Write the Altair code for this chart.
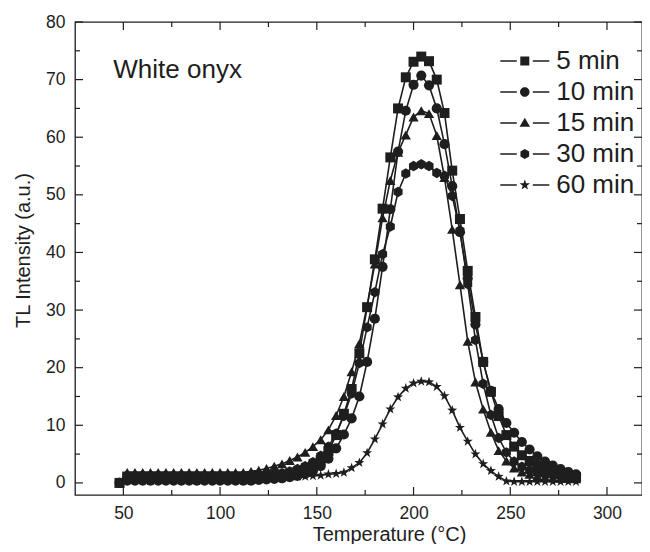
import altair as alt
import pandas as pd

FONT = "Liberation Sans"
INK = "#1e1e1e"

temps = [48, 52, 56, 60, 64, 68, 72, 76, 80, 84, 88, 92, 96, 100, 104, 108, 112, 116, 120,
         124, 128, 132, 136, 140, 144, 148, 152, 156, 160, 164, 168, 172, 176, 180, 184, 188,
         192, 196, 200, 204, 208, 212, 216, 220, 224, 228, 232, 236, 240, 244, 248, 252, 256,
         260, 264, 268, 272, 276, 280, 284]

min5 = [0.0, 1.1, 1.1, 1.1, 1.1, 1.1, 1.1, 1.1, 1.1, 1.1, 1.1, 1.1, 1.1, 1.1, 1.1, 1.1, 1.1, 1.1, 1.2,
        1.2, 1.3, 1.4, 1.6, 1.9, 2.3, 2.9, 3.9, 5.5, 8.3, 12.0, 16.3, 22.5, 30.5, 38.8, 47.6, 56.5,
        65.0, 70.4, 73.1, 74.0, 73.2, 70.0, 64.2, 54.2, 45.8, 36.8, 28.8, 21.0, 15.8, 11.6, 8.3, 6.3, 4.8,
        3.8, 3.0, 2.4, 1.9, 1.5, 1.2, 1.0]

min10 = [0.0, 0.4, 0.4, 0.4, 0.4, 0.4, 0.4, 0.4, 0.4, 0.4, 0.4, 0.4, 0.4, 0.4, 0.4, 0.4, 0.4, 0.4, 0.5,
         0.6, 0.7, 0.8, 1.0, 1.2, 1.6, 2.1, 2.9, 4.2, 6.0, 8.4, 11.2, 15.0, 21.0, 28.5, 37.5, 47.5,
         57.5, 64.6, 69.1, 70.7, 69.0, 65.0, 58.8, 51.5, 43.5, 35.5, 27.5, 21.0, 16.0, 12.8, 10.4, 8.7, 7.1,
         5.8, 4.6, 3.7, 3.0, 2.4, 1.9, 1.5]

min15 = [0.0, 1.8, 1.8, 1.8, 1.8, 1.8, 1.8, 1.8, 1.8, 1.8, 1.8, 1.8, 1.8, 1.8, 1.8, 1.8, 1.8, 2.0, 2.2,
         2.5, 2.9, 3.3, 3.9, 4.5, 5.3, 6.3, 7.5, 9.2, 11.7, 15.0, 19.3, 24.2, 30.7, 38.0, 46.0, 52.5,
         57.4, 60.4, 63.5, 64.6, 64.1, 60.3, 53.0, 44.0, 34.4, 24.6, 17.5, 12.8, 8.8, 5.6, 3.8, 2.6, 1.9,
         1.5, 1.2, 1.0, 0.9, 0.8, 0.8, 0.7]

min30 = [0.0, 1.3, 1.3, 1.3, 1.3, 1.3, 1.3, 1.3, 1.3, 1.3, 1.3, 1.3, 1.3, 1.3, 1.3, 1.3, 1.3, 1.3, 1.3,
         1.4, 1.5, 1.7, 2.0, 2.4, 2.9, 3.6, 4.7, 6.3, 8.6, 11.6, 15.5, 20.8, 27.0, 33.1, 39.7, 44.5,
         50.5, 53.7, 55.0, 55.3, 55.0, 53.8, 53.3, 49.8, 43.8, 34.5, 24.8, 17.2, 11.8, 7.8, 5.3, 3.7, 2.8,
         2.2, 1.8, 1.6, 1.5, 1.4, 1.3, 1.3]

min60 = [0.0, 0.6, 0.6, 0.6, 0.6, 0.6, 0.6, 0.6, 0.6, 0.6, 0.6, 0.6, 0.6, 0.6, 0.6, 0.6, 0.7, 0.7, 0.8,
         0.8, 0.9, 1.0, 1.0, 1.1, 1.1, 1.2, 1.3, 1.5, 1.6, 1.8, 2.6, 3.5, 5.2, 7.6, 10.2, 12.8,
         14.9, 16.4, 17.3, 17.6, 17.5, 16.7, 15.1, 12.6, 9.6, 7.2, 5.0, 3.3, 2.1, 1.1, 0.3, 0.2, 0.2,
         0.2, 0.2, 0.2, 0.2, 0.2, 0.2, 0.2]

series_names = ["5 min", "10 min", "15 min", "30 min", "60 min"]
series_values = [min5, min10, min15, min30, min60]

x_major = [50, 100, 150, 200, 250, 300]
x_minor = [75, 125, 175, 225, 275]
y_major = [0, 10, 20, 30, 40, 50, 60, 70, 80]
y_minor = [5, 15, 25, 35, 45, 55, 65, 75]

rows = []
for name, vals in zip(series_names, series_values):
    for t, v in zip(temps, vals):
        rows.append({"T": t, "I": v, "series": name})
df = pd.DataFrame(rows)

W, H = 567, 473
MAJ, MIN = 8, 5

STAR = ("M0,-1L0.235,-0.324L0.951,-0.309L0.38,0.124L0.588,0.809L0,0.4L-0.588,0.809"
        "L-0.38,0.124L-0.951,-0.309L-0.235,-0.324Z")
HEX = "M0,-1L0.866,-0.5L0.866,0.5L0,1L-0.866,0.5L-0.866,-0.5Z"
marker_shapes = ["square", "circle", "triangle-up", HEX, STAR]
marker_sizes = [100, 112, 135, 125, 165]

# legend glyphs: two filled dash bars plus the marker
DASH = "M-4.9,-0.15H-1.6V0.15H-4.9ZM1.6,-0.15H4.9V0.15H1.6Z"
legend_shapes = [
    DASH + "M-0.9,-0.9H0.9V0.9H-0.9Z",
    DASH + "M0.95,0A0.95,0.95,0,1,1,-0.95,0A0.95,0.95,0,1,1,0.95,0Z",
    DASH + "M0,-1.05L1.05,0.75H-1.05Z",
    DASH + "M0,-1L0.87,-0.5V0.5L0,1L-0.87,0.5V-0.5Z",
    DASH + "M0,-1.1L0.26,-0.36L1.05,-0.34L0.42,0.14L0.65,0.89L0,0.44L-0.65,0.89"
           "L-0.42,0.14L-1.05,-0.34L-0.26,-0.36Z",
]

xs = alt.Scale(domain=[25, 318.1], nice=False, zero=False)
ys = alt.Scale(domain=[-2.1, 80], nice=False, zero=False)

x_main = alt.Axis(orient="bottom", values=x_major, ticks=False, tickSize=0, domain=False,
                  grid=False, labelFontSize=17.5, labelPadding=9, labelFlush=False,
                  labelColor=INK, format="d",
                  title="Temperature (°C)", titleFontSize=20, titleX=314, titleY=45,
                  titleBaseline="alphabetic", titleAlign="center", titleColor=INK,
                  titleFontWeight="normal")
y_main = alt.Axis(orient="left", values=y_major, ticks=False, tickSize=0, domain=False,
                  grid=False, labelFontSize=17.5, labelPadding=10, labelFlush=False,
                  labelColor=INK, format="d",
                  title="TL Intensity (a.u.)", titleFontSize=20, titleX=-45.5, titleY=228,
                  titleBaseline="alphabetic", titleAlign="center", titleAngle=270,
                  titleColor=INK, titleFontWeight="normal")

base = alt.Chart(df)

axes_layer = base.mark_point(opacity=0).encode(
    x=alt.X("T:Q", scale=xs, axis=x_main),
    y=alt.Y("I:Q", scale=ys, axis=y_main),
)

# inward tick marks placed through the scales
xt_major = pd.DataFrame({"v": x_major})
xt_minor = pd.DataFrame({"v": x_minor})
yt_major = pd.DataFrame({"v": y_major})
yt_minor = pd.DataFrame({"v": y_minor})


def xticks(data, length):
    bottom = alt.Chart(data).mark_rule(color=INK, strokeWidth=1.2).encode(
        x=alt.X("v:Q", scale=xs, axis=None), y=alt.value(H), y2=alt.value(H - length))
    top = alt.Chart(data).mark_rule(color=INK, strokeWidth=1.2).encode(
        x=alt.X("v:Q", scale=xs, axis=None), y=alt.value(0), y2=alt.value(length))
    return [bottom, top]


def yticks(data, length):
    left = alt.Chart(data).mark_rule(color=INK, strokeWidth=1.2).encode(
        y=alt.Y("v:Q", scale=ys, axis=None), x=alt.value(0), x2=alt.value(length))
    right = alt.Chart(data).mark_rule(color=INK, strokeWidth=1.2).encode(
        y=alt.Y("v:Q", scale=ys, axis=None), x=alt.value(W), x2=alt.value(W - length))
    return [left, right]


tick_layers = (xticks(xt_major, MAJ) + xticks(xt_minor, MIN)
               + yticks(yt_major, MAJ) + yticks(yt_minor, MIN))

lines = base.mark_line(color=INK, strokeWidth=1.6).encode(
    x=alt.X("T:Q", scale=xs, axis=None),
    y=alt.Y("I:Q", scale=ys, axis=None),
    detail="series:N",
    order="T:Q",
)

points = base.mark_point(filled=True, color=INK, opacity=1, strokeWidth=0).encode(
    x=alt.X("T:Q", scale=xs, axis=None),
    y=alt.Y("I:Q", scale=ys, axis=None),
    shape=alt.Shape("series:N", scale=alt.Scale(domain=series_names, range=marker_shapes),
                    legend=None),
    size=alt.Size("series:N", scale=alt.Scale(domain=series_names, range=marker_sizes),
                  legend=None),
)

legend_layer = base.mark_point(filled=True, color=INK, opacity=0, size=100).encode(
    x=alt.X("T:Q", scale=xs, axis=None),
    y=alt.Y("I:Q", scale=ys, axis=None),
    shape=alt.Shape(
        "series:N",
        scale=alt.Scale(domain=series_names, range=legend_shapes),
        legend=alt.Legend(
            title=None, orient="none", legendX=436.8, legendY=26, padding=0,
            labelFont=FONT, labelFontSize=26, labelColor=INK, labelAlign="left",
            labelOffset=18.4, rowPadding=5, symbolSize=100,
            labelExpr="length(datum.label) < 6 ? '\u2007' + datum.label : datum.label",
            symbolFillColor=INK, symbolStrokeColor=INK, symbolStrokeWidth=0.8,
            symbolOpacity=1,
        ),
    ),
)

label = alt.Chart(pd.DataFrame({"txt": ["White onyx"]})).mark_text(
    align="left", baseline="alphabetic", fontSize=26, font=FONT, color=INK
).encode(x=alt.value(38.3), y=alt.value(56.3), text="txt:N")

chart = (
    alt.layer(axes_layer, *tick_layers, lines, points, legend_layer, label)
    .resolve_axis(x="independent", y="independent")
    .resolve_scale(shape="independent")
    .properties(
        width=W, height=H,
        autosize=alt.AutoSizeParams(type="none"),
        padding={"left": 67, "top": 14, "right": 0, "bottom": 49},
    )
    .configure_view(stroke=INK, strokeWidth=1.3)
    .configure_axis(labelFont=FONT, titleFont=FONT)
)

chart.save("out.html", embed_options={"renderer": "svg", "actions": False})
